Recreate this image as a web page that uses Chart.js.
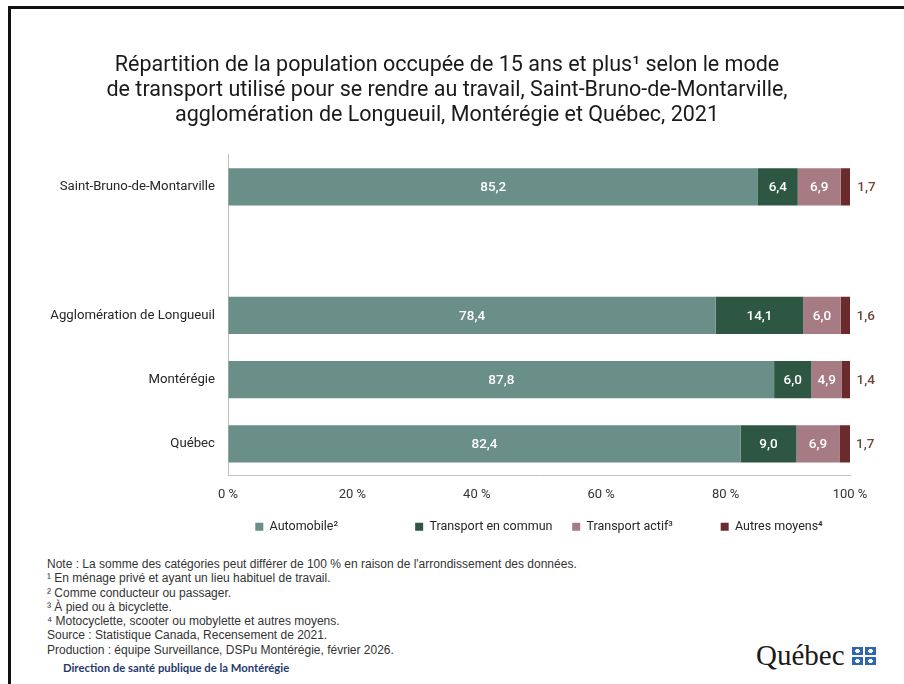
<!DOCTYPE html>
<html>
<head>
<meta charset="utf-8">
<script src="https://cdn.jsdelivr.net/npm/chart.js@4.4.0/dist/chart.umd.min.js"></script>
<style>
  body { margin:0; background:#fff; width:904px; height:684px; overflow:hidden; position:relative; }
  #frame { position:absolute; left:8px; top:6px; right:-10px; bottom:-10px; border-top:3px solid #111; border-left:3px solid #111; }
  #wrap { position:absolute; left:0; top:0; width:904px; height:545px; }
  #notes { position:absolute; left:47px; top:557px; font-family:"Liberation Sans", Arial, sans-serif; font-size:12px; line-height:14.3px; color:#333; }
  #dsp { position:absolute; left:63px; top:661px; font-family:Lato, "Open Sans", sans-serif; font-weight:bold; font-size:11.3px; color:#1f3a6e; }
  #logo { position:absolute; left:756px; top:639px; font-family:"Liberation Serif", serif; font-size:29px; color:#1a1a1a; }
  .fl { position:absolute; width:11px; height:8px; background:#2f66b3; }
  .fl:before { content:""; position:absolute; left:4px; top:2px; width:3px; height:4px; background:#fff; }
  .fl:after { content:""; position:absolute; left:3px; top:3px; width:5px; height:2px; background:#fff; }
</style>
</head>
<body>
<div id="frame"></div>
<div id="wrap"><canvas id="chart" width="904" height="545"></canvas></div>
<div id="notes">
Note : La somme des catégories peut différer de 100 % en raison de l'arrondissement des données.<br>
¹ En ménage privé et ayant un lieu habituel de travail.<br>
² Comme conducteur ou passager.<br>
³ À pied ou à bicyclette.<br>
⁴ Motocyclette, scooter ou mobylette et autres moyens.<br>
Source : Statistique Canada, Recensement de 2021.<br>
Production : équipe Surveillance, DSPu Montérégie, février 2026.
</div>
<div id="dsp">Direction de santé publique de la Montérégie</div>
<div id="logo">Québec</div>
<div class="fl" style="left:852px;top:647px"></div>
<div class="fl" style="left:865px;top:647px"></div>
<div class="fl" style="left:852px;top:657px"></div>
<div class="fl" style="left:865px;top:657px"></div>
<script>
const places = ["Saint-Bruno-de-Montarville", "", "Agglomération de Longueuil", "Montérégie", "Québec"]
const automobile = [85.2, null, 78.4, 87.8, 82.4]
const transportCommun = [6.4, null, 14.1, 6.0, 9.0]
const transportActif = [6.9, null, 6.0, 4.9, 6.9]
const autresMoyens = [1.7, null, 1.6, 1.4, 1.7]
const seriesNames = ["Automobile²", "Transport en commun", "Transport actif³", "Autres moyens⁴"]
const seriesColors = ["#6a8e88", "#2e5743", "#a67b84", "#6b2a2c"]
const xTicks = [0, 20, 40, 60, 80, 100]

const fontFam = "Roboto, 'Liberation Sans', sans-serif"
// extra room after each legend entry (em / en / thin spaces)
const legendGaps = ["\u2003\u2003\u2003\u2003\u2003\u2002", "\u2003", "\u2003\u2003\u2003\u2009", ""]

// value labels: inside the first three segments, outside for "autres moyens"
const barLabels = {
  id: "barLabels",
  afterDatasetsDraw(chart) {
    const ctx = chart.ctx
    ctx.save()
    ctx.font = "500 13.5px " + fontFam
    ctx.textBaseline = "middle"
    chart.data.datasets.forEach((ds, i) => {
      const meta = chart.getDatasetMeta(i)
      meta.data.forEach((bar, j) => {
        const v = ds.data[j]
        if (v == null) return
        const p = bar.getProps(["x", "y", "base"], true)
        const txt = v.toFixed(1).replace(".", ",")
        if (i == 3) {
          ctx.fillStyle = "#6e4636"
          ctx.textAlign = "left"
          ctx.fillText(txt, Math.max(p.x, p.base) + 6, p.y + 1)
        } else {
          ctx.fillStyle = "#ffffff"
          ctx.textAlign = "center"
          ctx.fillText(txt, (p.x + p.base) / 2, p.y + 1)
        }
      })
    })
    ctx.restore()
  }
}

const allSeries = [automobile, transportCommun, transportActif, autresMoyens]

new Chart(document.getElementById("chart"), {
  type: "bar",
  data: {
    labels: places,
    datasets: allSeries.map((d, i) => ({
      label: seriesNames[i],
      data: d,
      backgroundColor: seriesColors[i],
      borderWidth: 0,
      barPercentage: 0.58,
      categoryPercentage: 1
    }))
  },
  options: {
    indexAxis: "y",
    responsive: false,
    animation: false,
    layout: { padding: { left: 44, right: 54, top: 0, bottom: 2 } },
    scales: {
      x: {
        stacked: true,
        min: 0, max: 100,
        afterBuildTicks: s => { s.ticks = xTicks.map(v => ({ value: v })) },
        grid: { display: true, drawOnChartArea: false, drawTicks: false },
        border: { display: true, color: "#bfbfbf", width: 1 },
        ticks: { padding: 11, color: "#333", font: { family: fontFam, size: 13 }, callback: v => v + " %" }
      },
      y: {
        stacked: true,
        afterFit: s => { s.width = 184 },
        grid: { display: false, drawTicks: false },
        border: { display: true, color: "#bfbfbf", width: 1 },
        ticks: { padding: 13, color: "#262626", font: { family: fontFam, size: 13.2 } }
      }
    },
    plugins: {
      title: {
        display: true,
        text: ["Répartition de la population occupée de 15 ans et plus¹ selon le mode",
               "de transport utilisé pour se rendre au travail, Saint-Bruno-de-Montarville,",
               "agglomération de Longueuil, Montérégie et Québec, 2021"],
        color: "#1a1a1a",
        font: { family: fontFam, size: 21.5, weight: "normal", lineHeight: 1.16 },
        padding: { top: 53, bottom: 27 }
      },
      legend: {
        position: "bottom",
        fullSize: false,
        labels: {
          boxWidth: 8, boxHeight: 8, padding: 7, color: "#262626",
          font: { family: fontFam, size: 12.5 },
          generateLabels: chart => {
            const items = Chart.defaults.plugins.legend.labels.generateLabels(chart)
            items.forEach((it, k) => { it.text = it.text + legendGaps[k] })
            return items
          }
        }
      },
      tooltip: { enabled: false }
    }
  },
  plugins: [barLabels]
})
</script>
</body>
</html>
